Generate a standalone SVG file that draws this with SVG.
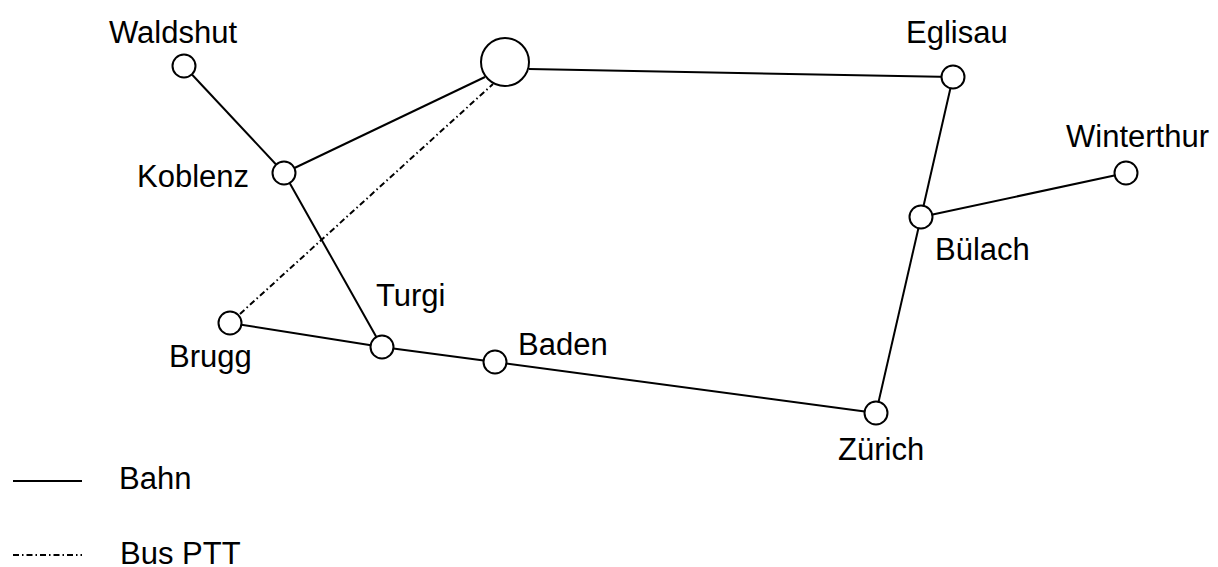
<svg xmlns="http://www.w3.org/2000/svg" width="1218" height="567" viewBox="0 0 1218 567">
<style>
.l{stroke:#000;stroke-width:2;fill:none}
.d{stroke:#000;stroke-width:2;fill:none;stroke-dasharray:6 3 1.5 3}
.n{fill:#fff;stroke:#000;stroke-width:2}
text{font-family:"Liberation Sans",Arial,Helvetica,sans-serif;font-size:31px;fill:#000}
</style>
<rect width="1218" height="567" fill="#fff"/>
<g id="connectors">
<line class="l" x1="184" y1="66" x2="284" y2="173"/>
<line class="l" x1="284" y1="173" x2="485" y2="77"/>
<line class="l" x1="284" y1="173" x2="382" y2="347"/>
<line class="l" x1="230" y1="323" x2="382" y2="347"/>
<line class="l" x1="382" y1="347" x2="495" y2="362"/>
<line class="l" x1="495" y1="362" x2="876" y2="413"/>
<line class="l" x1="876" y1="413" x2="921" y2="217"/>
<line class="l" x1="921" y1="217" x2="953" y2="77"/>
<line class="l" x1="921" y1="217" x2="1126" y2="173"/>
<line class="l" x1="529" y1="69" x2="953" y2="77"/>
<line class="d" x1="230" y1="323" x2="493" y2="84"/>
</g>
<g id="hub"><circle class="n" cx="505" cy="62" r="24"/></g>
<g id="waldshut"><circle class="n" cx="184" cy="66" r="11.5"/><text x="109" y="43">Waldshut</text></g>
<g id="koblenz"><circle class="n" cx="284" cy="173" r="11.5"/><text x="137" y="187">Koblenz</text></g>
<g id="brugg"><circle class="n" cx="230" cy="323" r="11.5"/><text x="169" y="367">Brugg</text></g>
<g id="turgi"><circle class="n" cx="382" cy="347" r="11.5"/><text x="376" y="306">Turgi</text></g>
<g id="baden"><circle class="n" cx="495" cy="362" r="11.5"/><text x="518" y="355">Baden</text></g>
<g id="zuerich"><circle class="n" cx="876" cy="413" r="11.5"/><text x="838" y="460">Zürich</text></g>
<g id="buelach"><circle class="n" cx="921" cy="217" r="11.5"/><text x="935" y="260">Bülach</text></g>
<g id="eglisau"><circle class="n" cx="953" cy="77" r="11.5"/><text x="906" y="43">Eglisau</text></g>
<g id="winterthur"><circle class="n" cx="1126" cy="173" r="11.5"/><text x="1066" y="147">Winterthur</text></g>
<g id="legend">
<line class="l" x1="13" y1="481" x2="82" y2="481"/>
<text x="119" y="489">Bahn</text>
<line class="d" x1="13" y1="555" x2="82" y2="555"/>
<text x="120" y="564">Bus PTT</text>
</g>
</svg>
